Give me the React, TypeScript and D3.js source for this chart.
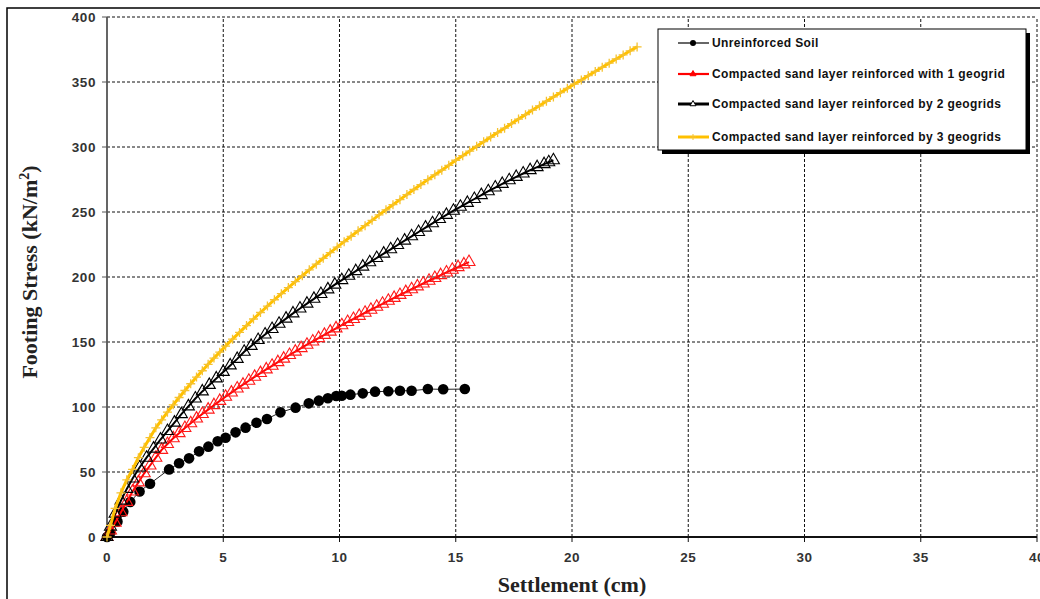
import React from "react";
import * as d3 from "d3";

// axis ticks
const xTicks = [0, 5, 10, 15, 20, 25, 30, 35, 40];
const yTicks = [0, 50, 100, 150, 200, 250, 300, 350, 400];

const seriesNames = [
  "Unreinforced Soil",
  "Compacted sand layer reinforced with 1 geogrid",
  "Compacted sand layer reinforced by 2 geogrids",
  "Compacted sand layer reinforced by 3 geogrids",
];

// Unreinforced soil
const unreinforcedX = [0, 0.14, 0.45, 0.7, 1.0, 1.4, 1.85, 2.67, 3.1, 3.53, 3.96, 4.36, 4.76, 5.1, 5.53, 5.96, 6.43, 6.88, 7.46, 8.11, 8.68, 9.11, 9.5, 9.86, 10.1, 10.47, 11.0, 11.53, 12.1, 12.6, 13.1, 13.8, 14.46, 15.39];
const unreinforcedY = [0, 3, 12, 19.5, 27, 35, 41, 52, 56.7, 60.5, 65.9, 69.5, 73.6, 76.4, 80.5, 84.1, 87.9, 90.8, 95.9, 99.5, 102.8, 104.9, 106.7, 108.5, 108.7, 109.5, 110.5, 111.8, 112.1, 112.5, 112.5, 113.8, 113.6, 113.8];

// 1 geogrid
const oneGridX = [0, 0.15, 0.35, 0.6, 0.85, 1.1, 1.35, 1.6, 1.85, 2.1, 2.35, 2.6, 2.85, 3.1, 3.35, 3.6, 3.85, 4.1, 4.35, 4.6, 4.85, 5.1, 5.35, 5.6, 5.85, 6.1, 6.35, 6.6, 6.85, 7.1, 7.35, 7.6, 7.85, 8.1, 8.35, 8.6, 8.85, 9.1, 9.35, 9.6, 9.85, 10.1, 10.35, 10.6, 10.85, 11.1, 11.35, 11.6, 11.85, 12.1, 12.35, 12.6, 12.85, 13.1, 13.35, 13.6, 13.85, 14.1, 14.35, 14.6, 14.85, 15.1, 15.35, 15.57];
const oneGridY = [0, 5, 11, 19, 27, 35, 42, 49, 55, 61, 67, 71.5, 75.9, 79.9, 83.8, 87.5, 91.1, 94.6, 98, 101.4, 104.7, 107.9, 111.1, 114.2, 117.2, 120.2, 123.2, 126.1, 128.9, 131.7, 134.5, 137.2, 140, 142.6, 145.3, 147.9, 150.4, 153, 155.5, 158, 160.5, 162.9, 165.4, 167.7, 170.1, 172.5, 174.8, 177.1, 179.4, 181.7, 183.9, 186.2, 188.4, 190.6, 192.8, 195, 197.1, 199.2, 201.4, 203.5, 205.6, 207.6, 209.7, 211.5];

// 2 geogrids
const twoGridX = [0, 0.15, 0.35, 0.6, 0.85, 1.1, 1.4, 1.7, 2.0, 2.3, 2.6, 2.9, 3.2, 3.5, 3.8, 4.1, 4.4, 4.7, 5.0, 5.3, 5.6, 5.9, 6.2, 6.5, 6.8, 7.1, 7.4, 7.7, 8.0, 8.3, 8.6, 8.9, 9.2, 9.5, 9.8, 10.1, 10.4, 10.7, 11.0, 11.3, 11.6, 11.9, 12.2, 12.5, 12.8, 13.1, 13.4, 13.7, 14.0, 14.3, 14.6, 14.9, 15.2, 15.5, 15.8, 16.1, 16.4, 16.7, 17.0, 17.3, 17.6, 17.9, 18.2, 18.5, 18.8, 19.0, 19.2];
const twoGridY = [0, 8, 18, 28, 37, 45, 53.5, 61, 68, 75, 81.5, 88, 94.5, 100.5, 106.5, 112, 117, 122, 127, 132, 137, 142.5, 147, 151.5, 155.8, 160, 164, 168, 172, 175.8, 179.5, 183.2, 186.9, 190.5, 194.1, 197.6, 201, 204.5, 208, 211.3, 214.6, 218, 221.3, 224.6, 228, 231.3, 234.6, 238, 241.3, 244.6, 247.8, 251, 254, 257, 260, 263, 266, 268.8, 271.6, 274.4, 277, 279.6, 282.2, 284.5, 286.8, 288.3, 289.8];

// 3 geogrids
const threeGridX = [0, 0.15, 0.35, 0.6, 0.85, 1.1, 1.35, 1.6, 1.85, 2.1, 2.35, 2.6, 2.85, 3.1, 3.35, 3.6, 3.85, 4.1, 4.35, 4.6, 4.85, 5.1, 5.4, 5.7, 6.0, 6.3, 6.6, 6.9, 7.2, 7.5, 7.8, 8.1, 8.4, 8.7, 9.0, 9.3, 9.6, 9.9, 10.2, 10.5, 10.8, 11.1, 11.4, 11.7, 12.0, 12.3, 12.6, 12.9, 13.2, 13.5, 13.8, 14.1, 14.4, 14.7, 15.0, 15.3, 15.6, 15.9, 16.2, 16.5, 16.8, 17.1, 17.4, 17.7, 18.0, 18.3, 18.6, 18.9, 19.2, 19.5, 19.8, 20.1, 20.4, 20.7, 21.0, 21.3, 21.6, 21.9, 22.2, 22.5, 22.8];
const threeGridY = [0, 9, 22, 34, 44, 52, 61, 69, 76.5, 84, 90.1, 96, 101.7, 107.3, 112.7, 117.9, 123, 127.9, 132.8, 137.6, 142.2, 146.8, 152.2, 157.4, 162.6, 167.7, 172.7, 177.6, 182.5, 187.2, 191.9, 196.5, 201, 205.5, 209.9, 214.4, 218.7, 223, 227.2, 231.3, 235.5, 239.5, 243.6, 247.8, 251.7, 255.6, 259.5, 263.4, 267.3, 271.1, 274.9, 278.6, 282.2, 285.9, 289.8, 293.3, 296.9, 300.5, 304.1, 307.6, 311.1, 314.5, 318, 321.5, 324.9, 328.4, 331.7, 335.2, 338.5, 341.8, 345.1, 348.4, 351.6, 354.9, 358.1, 361.3, 364.5, 367.7, 370.8, 374, 377];

const W = 1040;
const H = 599;

const zip = (xs: number[], ys: number[]) => xs.map((v, i) => [v, ys[i]] as [number, number]);

// marker shapes
const tri = (s: number) => `M0,${-s * 0.58}L${s / 2},${s * 0.29}L${-s / 2},${s * 0.29}Z`;
const plus = (s: number) => `M${-s / 2},0H${s / 2}M0,${-s / 2}V${s / 2}`;

const App = () => {
  const x = d3.scaleLinear().domain([0, 40]).range([107, 1037]);
  const y = d3.scaleLinear().domain([0, 400]).range([537, 17]);
  const line = d3
    .line<[number, number]>()
    .x((d) => x(d[0]))
    .y((d) => y(d[1]));

  const s1 = zip(unreinforcedX, unreinforcedY);
  const s2 = zip(oneGridX, oneGridY);
  const s3 = zip(twoGridX, twoGridY);
  const s4 = zip(threeGridX, threeGridY);

  const tickFont = { fontFamily: "'Liberation Sans', Arial, sans-serif", fontWeight: 700, fontSize: 13.5, letterSpacing: 0.6, fill: "#333" };
  const titleFont = { fontFamily: "'Liberation Serif', 'Times New Roman', serif", fontWeight: 700, fontSize: 22, fill: "#222" };

  // legend layout
  const lgX = 658;
  const lgY = 29;
  const lgW = 368;
  const lgH = 121;
  const rows = [43, 74, 104, 137];

  return (
    <div style={{ position: "absolute", left: 0, top: 0 }}>
      <svg width={W} height={H} style={{ display: "block", background: "#fff" }}>
        {/* outer frame */}
        <rect x={7} y={8} width={1200} height={800} fill="none" stroke="#000" strokeWidth={1.5} />

        {/* grid */}
        <g stroke="#111" strokeWidth={1} strokeDasharray="3,2">
          {xTicks.slice(1).map((t) => (
            <line key={"gx" + t} x1={x(t)} x2={x(t)} y1={y(0)} y2={y(400)} />
          ))}
          {yTicks.slice(1).map((t) => (
            <line key={"gy" + t} x1={x(0)} x2={x(40)} y1={y(t)} y2={y(t)} />
          ))}
        </g>

        {/* axes */}
        <line x1={x(0)} x2={x(0)} y1={y(0)} y2={y(400)} stroke="#555" strokeWidth={1.8} />
        <line x1={x(0)} x2={x(40)} y1={y(0)} y2={y(0)} stroke="#111" strokeWidth={1.8} />
        {yTicks.map((t) => (
          <g key={"yt" + t}>
            <line x1={x(0) - 5} x2={x(0)} y1={y(t)} y2={y(t)} stroke="#555" strokeWidth={1} />
            <text x={96} y={y(t)} dy="0.36em" textAnchor="end" style={tickFont}>
              {t}
            </text>
          </g>
        ))}
        {xTicks.map((t) => (
          <g key={"xt" + t}>
            <line x1={x(t)} x2={x(t)} y1={y(0)} y2={y(0) + 5} stroke="#111" strokeWidth={1} />
            <text x={x(t)} y={562} textAnchor="middle" style={tickFont}>
              {t}
            </text>
          </g>
        ))}

        {/* axis titles */}
        <text x={572} y={592} textAnchor="middle" style={titleFont}>
          Settlement (cm)
        </text>
        <text transform="translate(37,272) rotate(-90)" textAnchor="middle" style={titleFont}>
          Footing Stress (kN/m
          <tspan dy={-8} fontSize={14}>2</tspan>
          <tspan dy={8}>)</tspan>
        </text>

        {/* unreinforced */}
        <path d={line(s1) || ""} fill="none" stroke="#222" strokeWidth={1} />
        {s1.map((d, i) => (
          <circle key={"c" + i} cx={x(d[0])} cy={y(d[1])} r={5.3} fill="#000" />
        ))}

        {/* 1 geogrid */}
        <path d={line(s2) || ""} fill="none" stroke="#ff0000" strokeWidth={2} />
        {s2.map((d, i) => (
          <path key={"r" + i} d={tri(12)} transform={`translate(${x(d[0])},${y(d[1])})`} fill="none" stroke="#ff1a1a" strokeWidth={1.1} />
        ))}

        {/* 2 geogrids */}
        <path d={line(s3) || ""} fill="none" stroke="#000" strokeWidth={2} />
        {s3.map((d, i) => (
          <path key={"b" + i} d={tri(12)} transform={`translate(${x(d[0])},${y(d[1])})`} fill="none" stroke="#000" strokeWidth={1.1} />
        ))}

        {/* 3 geogrids */}
        <path d={line(s4) || ""} fill="none" stroke="#ffc000" strokeWidth={3} />
        {s4.map((d, i) => (
          <path key={"y" + i} d={plus(9)} transform={`translate(${x(d[0])},${y(d[1])})`} fill="none" stroke="#f5c230" strokeWidth={1.3} />
        ))}

        {/* legend */}
        <rect x={lgX + 4} y={lgY + 4} width={lgW} height={lgH} fill="#000" />
        <rect x={lgX} y={lgY} width={lgW} height={lgH} fill="#fff" stroke="#000" strokeWidth={1} />
        {seriesNames.map((name, i) => {
          const ry = rows[i];
          const cx = 693;
          const colors = ["#000", "#ff0000", "#000", "#ffc000"];
          const widths = [1.2, 2.2, 3, 3];
          return (
            <g key={"lg" + i}>
              <line x1={678} x2={709} y1={ry} y2={ry} stroke={colors[i]} strokeWidth={widths[i]} />
              {i === 0 && <circle cx={cx} cy={ry} r={3} fill="#000" />}
              {(i === 1 || i === 2) && (
                <path d={tri(6)} transform={`translate(${cx},${ry})`} fill={i === 1 ? "#ff0000" : "#fff"} stroke={colors[i]} strokeWidth={1} />
              )}
              {i === 3 && <path d={plus(6)} transform={`translate(${cx},${ry})`} stroke="#f5c230" strokeWidth={1} />}
              <text
                x={712}
                y={ry}
                dy="0.35em"
                style={{ fontFamily: "'Liberation Sans', Arial, sans-serif", fontWeight: 700, fontSize: 12, letterSpacing: 0.4, fill: "#111" }}
              >
                {name}
              </text>
            </g>
          );
        })}
      </svg>
    </div>
  );
};

export default App;
